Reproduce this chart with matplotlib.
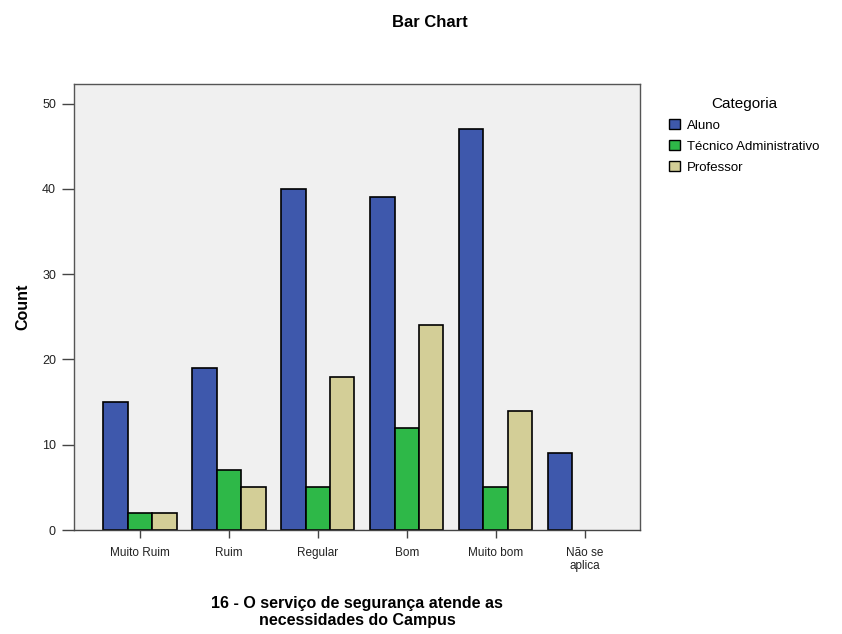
import numpy as np
import matplotlib.pyplot as plt
from matplotlib.patches import Patch

plt.rcParams['font.family'] = ['Liberation Sans', 'DejaVu Sans']

categorias = ["Muito Ruim", "Ruim", "Regular", "Bom", "Muito bom", "Não se\naplica"]
aluno = [15, 19, 40, 39, 47, 9]
tecnico = [2, 7, 5, 12, 5, 0]
professor = [2, 5, 18, 24, 14, 0]

series = ["Aluno", "Técnico Administrativo", "Professor"]
cores = ["#3E58AC", "#2EB848", "#D3CE97"]

fig = plt.figure(figsize=(8.42, 6.34), dpi=100)
ax = fig.add_axes([0.0879, 0.164, 0.672, 0.7035])
ax.set_facecolor("#F0F0F0")

x = np.arange(len(categorias))
w = 0.275
for i, (vals, cor) in enumerate(zip([aluno, tecnico, professor], cores)):
    pos = x + (i - 1) * w
    v = np.array(vals)
    m = v > 0
    ax.bar(pos[m], v[m], width=w, color=cor, edgecolor="black", linewidth=1.2)

ax.set_xlim(-0.74, 5.62)
ax.set_ylim(0, 52.3)
ax.set_yticks([0, 10, 20, 30, 40, 50])
ax.set_xticks(x)
ax.set_xticklabels(categorias, fontsize=8.5, color="#222222", linespacing=1.15)
ax.tick_params(axis="y", labelsize=9, length=9, width=1, color="#444444",
               labelcolor="#222222", pad=4)
ax.tick_params(axis="x", length=6, width=1, color="#444444", pad=6)
for s in ax.spines.values():
    s.set_color("#555555")
    s.set_linewidth(1)
ax.spines["bottom"].set_color("#444444")

ax.set_ylabel("Count", fontsize=11.5, fontweight="bold", labelpad=8)
ax.set_xlabel("16 - O serviço de segurança atende as\nnecessidades do Campus",
              fontsize=11.5, fontweight="bold", labelpad=17, linespacing=1.2)
fig.text(0.51, 0.965, "Bar Chart", ha="center", va="center", fontsize=12, fontweight="bold")

handles = [Patch(facecolor=c, edgecolor="black", label=s) for s, c in zip(series, cores)]
leg = fig.legend(handles=handles, title="Categoria", loc="upper left",
                 bbox_to_anchor=(0.788, 0.856), frameon=False, fontsize=9.5,
                 title_fontsize=11, handlelength=0.85, handleheight=0.85,
                 handletextpad=0.55, labelspacing=0.62, borderaxespad=0)

fig.savefig("out.png", dpi=100)
